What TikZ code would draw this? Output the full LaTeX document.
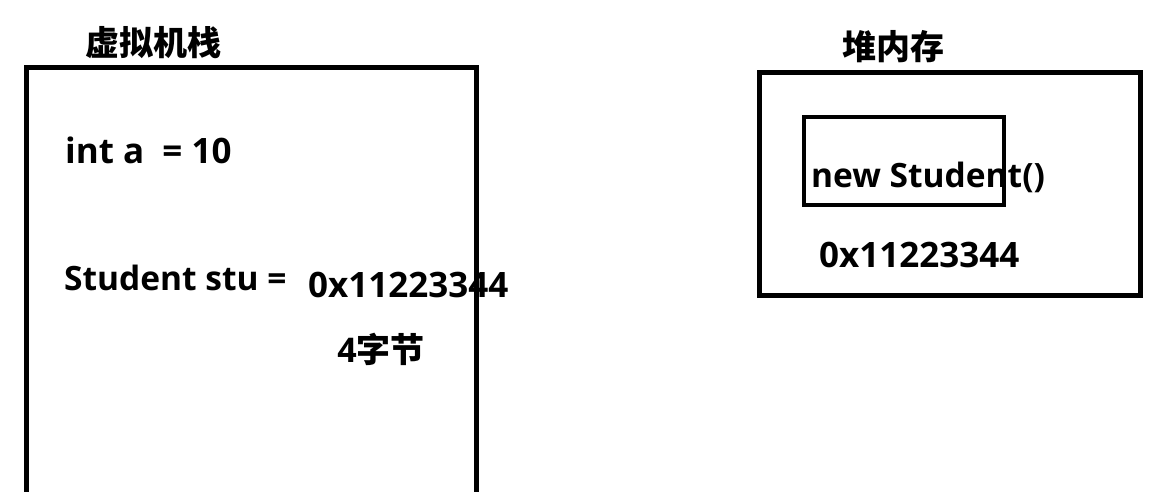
\documentclass[tikz,border=0pt]{standalone}
\usepackage{fontspec}
\setmainfont{Open Sans}
\newfontfamily\cjk{Noto Sans CJK SC}
\tikzset{
	code/.style = {inner sep=0pt, anchor=base west, font=\fontsize{35}{40}\selectfont\bfseries},
	word/.style = {code, font=\fontsize{33.5}{40}\selectfont\bfseries},
	title/.style = {inner sep=0pt, font=\fontsize{34}{40}\selectfont\cjk\bfseries},
}

\begin{document}
\begin{tikzpicture}[x=1pt, y=-1pt]
	\useasboundingbox (0,0) rectangle (1159,491);
	\clip (0,0) rectangle (1159,491);
	% stack
	\draw [line width=5pt] (26,500) -- (26,67) -- (476,67) -- (476,500);
	\node (stacktitle) [title] at (153,43) {虚拟机栈};
	\node (inta) [code] at (65,163) {int a\ \ = 10};
	\node (stuvar) [word] at (64,290) {Student stu =};
	\node (stuaddr) [code] at (308,297) {0x11223344};
	\node (bytes) [title] at (381,349) {{\fontspec{Open Sans}4}字节};
	% heap
	\draw [line width=5pt] (759,72) rectangle (1140,295);
	\draw [line width=4pt] (804,117) rectangle (1004,205);
	\node (heaptitle) [title] at (893,47) {堆内存};
	\node (newstu) [word] at (811,187) {new Student()};
	\node (heapaddr) [code] at (819,267) {0x11223344};
\end{tikzpicture}
\end{document}
